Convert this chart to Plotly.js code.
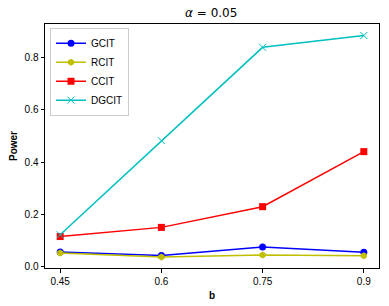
<!DOCTYPE html>
<html><head><meta charset="utf-8">
<script src="https://cdn.plot.ly/plotly-3.0.1.min.js"></script>
<style>html,body{margin:0;padding:0;background:#fff}#chart{width:389px;height:306px}</style>
</head><body><div id="chart"></div>
<script>
const bVals = [0.45, 0.6, 0.75, 0.9];
const tickLabels = ["0.45", "0.6", "0.75", "0.9"];
const gcit = [0.057, 0.044, 0.076, 0.056];
const rcit = [0.053, 0.038, 0.046, 0.043];
const ccit = [0.116, 0.151, 0.230, 0.440];
const dgcit = [0.123, 0.482, 0.838, 0.883];

const fam = "Liberation Sans, Arial, sans-serif";
const font = {family: fam, size: 10, color: "#000"};
const traces = [
  {x: bVals, y: gcit, name: "GCIT", mode: "lines+markers", line: {color: "#0000ff", width: 1.5}, marker: {symbol: "circle", size: 7, color: "#0000ff"}},
  {x: bVals, y: rcit, name: "RCIT", mode: "lines+markers", line: {color: "#bfbf00", width: 1.5}, marker: {symbol: "hexagon", size: 7, color: "#bfbf00"}},
  {x: bVals, y: ccit, name: "CCIT", mode: "lines+markers", line: {color: "#ff0000", width: 1.5}, marker: {symbol: "square", size: 7, color: "#ff0000"}},
  {x: bVals, y: dgcit, name: "DGCIT", mode: "lines+markers", line: {color: "#00bfbf", width: 1.5}, marker: {symbol: "x-thin-open", size: 7, color: "#00bfbf", line: {width: 1, color: "#00bfbf"}}}
];
const layout = {
  width: 389, height: 306,
  margin: {l: 45, r: 10, t: 24, b: 38},
  paper_bgcolor: "#fff", plot_bgcolor: "#fff",
  font: font,
  showlegend: true,
  title: {text: "<i>α</i> = 0.05", font: {family: "DejaVu Sans", size: 12, color: "#000"}, x: 0.543, xanchor: "center", y: 0.957, yanchor: "middle"},
  xaxis: {
    range: [0.4275, 0.9225], tickvals: bVals, ticktext: tickLabels,
    showline: true, mirror: true, linecolor: "#000", linewidth: 1,
    ticks: "outside", ticklen: 3.5, tickcolor: "#000", showgrid: false, zeroline: false,
    title: {text: "<b>b</b>", font: {family: fam, size: 10, color: "#000"}, standoff: 6}
  },
  yaxis: {
    range: [-0.004, 0.927], tickvals: [0, 0.2, 0.4, 0.6, 0.8], ticktext: ["0.0", "0.2", "0.4", "0.6", "0.8"],
    showline: true, mirror: true, linecolor: "#000", linewidth: 1,
    ticks: "outside", ticklen: 3.5, tickcolor: "#000", showgrid: false, zeroline: false,
    title: {text: "<b>Power</b>", font: {family: fam, size: 10, color: "#000"}, standoff: 5}
  },
  legend: {x: 0.015, y: 0.985, xanchor: "left", yanchor: "top", bgcolor: "rgba(255,255,255,0.8)", bordercolor: "#cccccc", borderwidth: 1, font: {family: fam, size: 10, color: "#000"}, tracegroupgap: 0, itemwidth: 30}
};
Plotly.newPlot("chart", traces, layout, {displayModeBar: false, staticPlot: true});
</script></body></html>
